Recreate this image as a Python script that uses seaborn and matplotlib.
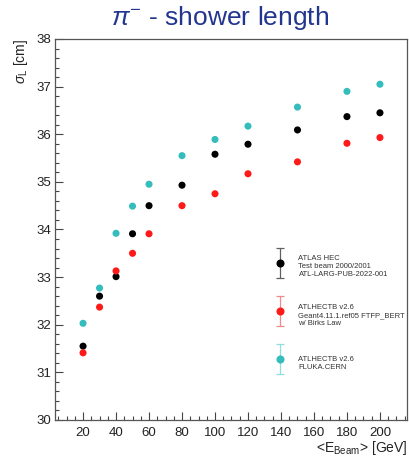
import numpy as np
import pandas as pd
import matplotlib
matplotlib.use('Agg')
import matplotlib.pyplot as plt
import seaborn as sns
from matplotlib.container import ErrorbarContainer
from matplotlib.legend_handler import HandlerErrorbar
from matplotlib.ticker import MultipleLocator

# 数据
energy = [20, 30, 40, 50, 60, 80, 100, 120, 150, 180, 200]
sigma_testbeam = [31.55, 32.60, 33.01, 33.91, 34.50, 34.93, 35.58, 35.79, 36.09, 36.37, 36.45]
sigma_geant4 = [31.41, 32.37, 33.13, 33.50, 33.91, 34.50, 34.75, 35.17, 35.42, 35.81, 35.93]
sigma_fluka = [32.03, 32.77, 33.92, 34.49, 34.95, 35.55, 35.89, 36.17, 36.57, 36.90, 37.05]

samples = ['testbeam', 'geant4', 'fluka']
labels = [
    'ATLAS HEC\nTest beam 2000/2001\nATL-LARG-PUB-2022-001',
    'ATLHECTB v2.6\nGeant4.11.1.ref05 FTFP_BERT\nw/ Birks Law',
    'ATLHECTB v2.6\nFLUKA.CERN',
]
colors = {'testbeam': '#000000', 'geant4': '#ff1a1a', 'fluka': '#35bcbc'}
err_colors = {'testbeam': '#606060', 'geant4': '#f28a8a', 'fluka': '#8fdede'}

df = pd.DataFrame({
    'E': energy * 3,
    'sigma': sigma_testbeam + sigma_geant4 + sigma_fluka,
    'sample': ['testbeam'] * len(energy) + ['geant4'] * len(energy) + ['fluka'] * len(energy),
})

sns.set_style('ticks')
plt.rcParams['font.family'] = ['Liberation Sans', 'DejaVu Sans']
plt.rcParams['mathtext.fontset'] = 'custom'
plt.rcParams['mathtext.rm'] = 'Liberation Sans'
plt.rcParams['mathtext.it'] = 'Liberation Sans:italic'

fig = plt.figure(figsize=(4.09, 4.57), dpi=100)
ax = fig.add_axes([0.1345, 0.081, 0.861, 0.8337])

sns.scatterplot(data=df, x='E', y='sigma', hue='sample', palette=colors,
                hue_order=['fluka', 'geant4', 'testbeam'],
                s=26, edgecolor='none', legend=False, ax=ax, zorder=3)

# 图例 (带误差棒的标记)
handles = []
for name in samples:
    h = ax.errorbar([np.nan], [np.nan], yerr=[[1], [1]], fmt='o', ms=4.8,
                    color=colors[name], ecolor=err_colors[name],
                    elinewidth=0.9, capsize=2.9, capthick=0.9)
    handles.append(h)

leg = ax.legend(handles, labels, loc='upper left', bbox_to_anchor=(0.627, 0.432),
                frameon=False, fontsize=5.5, handlelength=1.2, handleheight=4.3,
                handletextpad=1.77, labelspacing=3.27, borderpad=0, borderaxespad=0,
                handler_map={ErrorbarContainer: HandlerErrorbar(yerr_size=1.96)})
for t in leg.get_texts():
    t.set_color('#333333')

ax.set_xlim(3, 216.5)
ax.set_ylim(30, 38)
ax.xaxis.set_major_locator(MultipleLocator(20))
ax.xaxis.set_minor_locator(MultipleLocator(5))
ax.yaxis.set_major_locator(MultipleLocator(1))
ax.yaxis.set_minor_locator(MultipleLocator(0.2))
ax.set_xticks([20, 40, 60, 80, 100, 120, 140, 160, 180, 200])

ax.tick_params(which='both', direction='in', width=0.8, color='#444444',
               labelsize=9.5, labelcolor='#222222')
ax.tick_params(which='major', length=5.8)
ax.tick_params(which='minor', length=2.9)
ax.tick_params(axis='x', pad=5)
ax.tick_params(axis='y', pad=3)
for sp in ax.spines.values():
    sp.set_color('#555555')
    sp.set_linewidth(0.9)

ax.set_xlabel(r'<E$_{\rm Beam}$> [GeV]', fontsize=10, color='#222222', loc='right')
ax.xaxis.set_label_coords(1.0, -0.05)
ax.set_ylabel(r'$\sigma_{\rm L}$ [cm]', fontsize=10, color='#222222', loc='top')
ax.yaxis.set_label_coords(-0.07, 1.0)

fig.text(220 / 409, 1 - 25 / 457, r'$\pi^{-}$ - shower length', fontsize=19,
         color='#22358f', ha='center', va='baseline')

fig.savefig('out.png', dpi=100)
